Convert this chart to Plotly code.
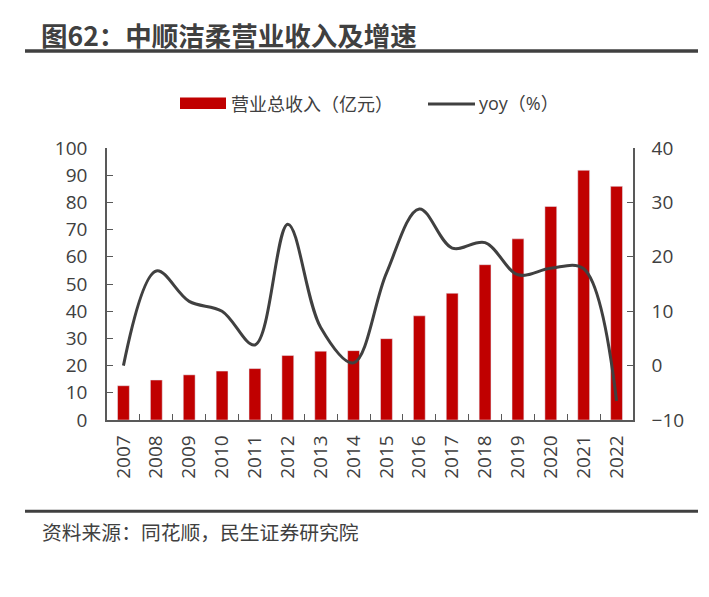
import plotly.graph_objects as go

years = ["2007", "2008", "2009", "2010", "2011", "2012", "2013", "2014",
         "2015", "2016", "2017", "2018", "2019", "2020", "2021", "2022"]
revenue = [12.6, 14.7, 16.6, 18.0, 18.9, 23.7, 25.3, 25.5,
           29.9, 38.3, 46.6, 57.1, 66.6, 78.5, 91.8, 85.9]
yoy = [0.0, 17.4, 11.8, 10.0, 3.8, 26.0, 7.0, 0.5,
       17.0, 28.8, 21.6, 22.6, 16.7, 17.9, 17.8, -6.5]

title_text = "图62：中顺洁柔营业收入及增速"
source_text = "资料来源：同花顺，民生证券研究院"
bar_name = "营业总收入（亿元）"
line_name = "yoy（%）"

OFF = 8  # page body margin
W, H = 709 - OFF, 597 - OFF
# plot area in screen coordinates: x 107..633, y 148..420
ML, MR, MT, MB = 107 - OFF, 709 - 633, 148 - OFF, 597 - 420
PW, PH = W - ML - MR, H - MT - MB

def px(x):
    return (x - OFF - ML) / PW

def py(y):
    return (H - MB - (y - OFF)) / PH

FONT = "Open Sans, Noto Sans CJK SC, sans-serif"
CJK = "Noto Sans CJK SC, sans-serif"
TXT = "#404040"
AX = "#595959"
RED = "#C00000"
TS = 19

fig = go.Figure()
fig.add_trace(go.Bar(x=years, y=revenue, name=bar_name, marker_color=RED,
                     width=0.36, showlegend=False, yaxis="y"))
fig.add_trace(go.Scatter(x=years, y=yoy, name=line_name, mode="lines",
                         line=dict(color="#404040", width=3, shape="spline", smoothing=1.0),
                         showlegend=False, yaxis="y2"))

fig.update_layout(
    width=W, height=H,
    margin=dict(l=ML, r=MR, t=MT, b=MB),
    paper_bgcolor="white", plot_bgcolor="white",
    font=dict(family=FONT, color=TXT, size=TS),
    xaxis=dict(type="category", tickangle=-90, showline=True, linecolor=AX, linewidth=1.5,
               ticks="inside", ticklen=6, tickcolor=AX, tickson="boundaries",
               ticklabelstandoff=6,
               tickfont=dict(size=TS, color=TXT), showgrid=False, zeroline=False),
    yaxis=dict(range=[0, 100], dtick=10, showline=True, linecolor=AX, linewidth=1.5,
               ticks="inside", ticklen=6, tickcolor=AX, showgrid=False, zeroline=False,
               ticklabelstandoff=14,
               tickfont=dict(size=TS, color=TXT)),
    yaxis2=dict(range=[-10, 40], dtick=10, overlaying="y", side="right", showline=True,
                linecolor=AX, linewidth=1.5, ticks="inside", ticklen=6, tickcolor=AX,
                showgrid=False, zeroline=False, ticklabelstandoff=13,
                tickfont=dict(size=TS, color=TXT)),
)

shapes = [
    dict(type="line", xref="paper", yref="paper", x0=px(25), x1=px(698), y0=py(51), y1=py(51),
         line=dict(color="#404040", width=3.3)),
    dict(type="line", xref="paper", yref="paper", x0=px(25), x1=px(698), y0=py(511.3), y1=py(511.3),
         line=dict(color="#404040", width=3)),
    dict(type="rect", xref="paper", yref="paper", x0=px(180), x1=px(226), y0=py(109), y1=py(97.5),
         fillcolor=RED, line=dict(width=0)),
    dict(type="line", xref="paper", yref="paper", x0=px(428), x1=px(475), y0=py(104), y1=py(104),
         line=dict(color="#404040", width=3)),
]
annotations = [
    dict(text="<b>" + title_text + "</b>", xref="paper", yref="paper", x=px(39), y=py(34.5),
         xanchor="left", yanchor="middle", showarrow=False,
         font=dict(family=CJK, size=26.5, color="#404040")),
    dict(text=source_text, xref="paper", yref="paper", x=px(40), y=py(531),
         xanchor="left", yanchor="middle", showarrow=False,
         font=dict(family=CJK, size=19.8, color="#404040")),
    dict(text=bar_name, xref="paper", yref="paper", x=px(229), y=py(103),
         xanchor="left", yanchor="middle", showarrow=False,
         font=dict(family=CJK, size=18, color=TXT)),
    dict(text=line_name, xref="paper", yref="paper", x=px(477), y=py(103),
         xanchor="left", yanchor="middle", showarrow=False,
         font=dict(family=FONT, size=18, color=TXT)),
]
fig.update_layout(shapes=shapes, annotations=annotations)

fig.write_html("out.html")
